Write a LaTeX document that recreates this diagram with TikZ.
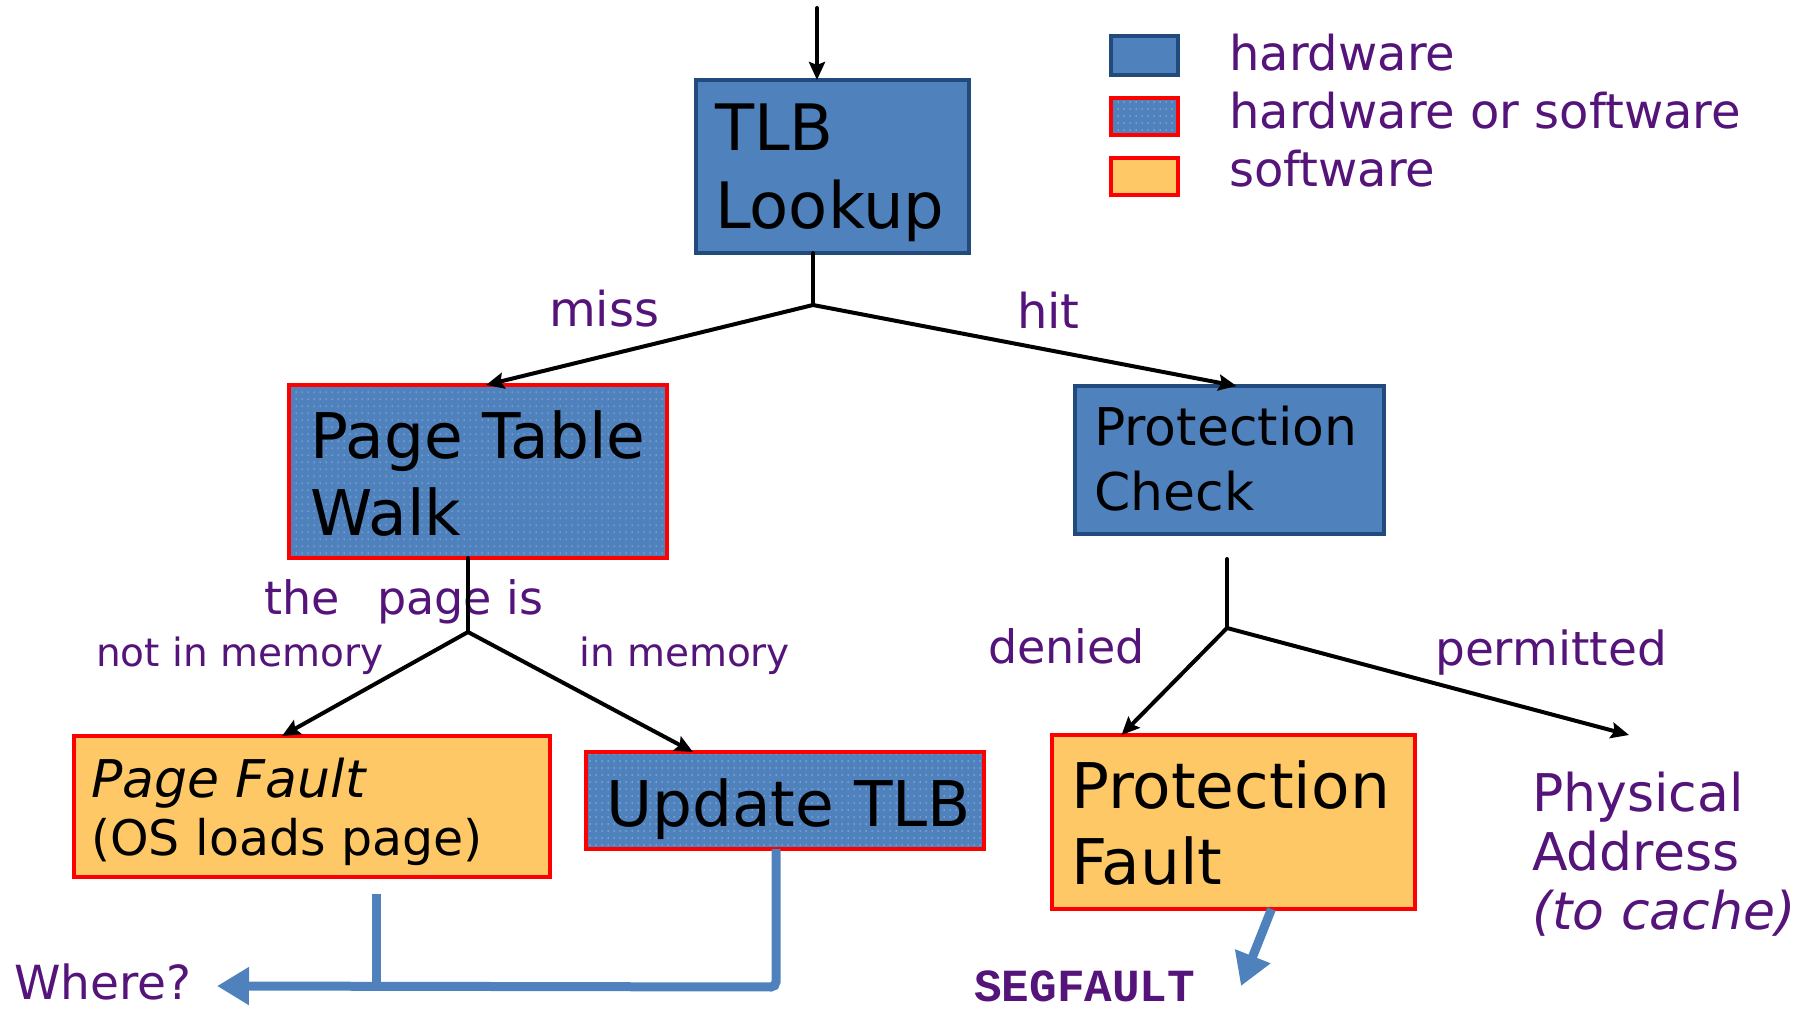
\documentclass[tikz,border=0pt]{standalone}
\usepackage{fontspec}
\setmainfont{DejaVu Sans}
\newfontfamily\segfont{Liberation Mono}
\usetikzlibrary{arrows.meta,patterns.meta}
\definecolor{hwblue}{RGB}{79,129,189}
\definecolor{hwdark}{RGB}{35,74,125}
\definecolor{swfill}{RGB}{255,200,102}
\definecolor{txtpurple}{RGB}{84,20,122}
\definecolor{dotcol}{RGB}{140,172,214}
\tikzdeclarepattern{name=hwdots, type=uncolored,
  bounding box={(0pt,0pt) and (6pt,6.5pt)}, tile size={(6pt,6.5pt)},
  code={\fill (2pt,2pt) rectangle (3pt,4pt);}}
\tikzset{
  boxbase/.style={rectangle, inner sep=0pt, outer sep=0pt, anchor=north west, line width=4pt},
  hwbox/.style={boxbase, draw=hwdark, fill=hwblue},
  mixbox/.style={boxbase, draw=red, preaction={fill=hwblue}, pattern=hwdots, pattern color=dotcol},
  swbox/.style={boxbase, draw=red, fill=swfill},
  conn/.style={line width=4pt, draw=black, line cap=round, line join=round},
  arr/.style={conn, -{Stealth[length=18pt,width=16pt,inset=3pt]}},
  bluearr/.style={line width=9pt, draw=hwblue, -{Triangle[length=32pt,width=36pt]}},
  bluel/.style={line width=9pt, draw=hwblue},
  boxtext/.style={anchor=base west, inner sep=0pt, align=left, text=black},
  lbl/.style={anchor=base west, inner sep=0pt, align=left, text=txtpurple},
}
\begin{document}
\begin{tikzpicture}[x=1pt,y=-1pt]
\useasboundingbox (0,0) rectangle (1793,1011);

% boxes
\node[hwbox, minimum width=273pt, minimum height=173pt] (tlb) at (696,80) {};
\node[mixbox, minimum width=378pt, minimum height=173pt] (ptw) at (289,385) {};
\node[hwbox, minimum width=309pt, minimum height=148pt] (pc) at (1075,386) {};
\node[swbox, minimum width=476pt, minimum height=141pt] (pf) at (74,736) {};
\node[mixbox, minimum width=398pt, minimum height=97pt] (ut) at (586,752) {};
\node[swbox, minimum width=363pt, minimum height=174pt] (prf) at (1052,735) {};

% box texts (anchor is baseline of last line)
\node[boxtext, font=\fontsize{64}{78}\selectfont] (tlbt) at (715,229) {TLB\\Lookup};
\node[boxtext, font=\fontsize{63}{77}\selectfont] (ptwt) at (310,535) {Page Table\\Walk};
\node[boxtext, font=\fontsize{52}{65}\selectfont] (pct) at (1094,510) {Protection\\Check};
\node[boxtext, font=\fontsize{49}{58}\selectfont] (pft) at (91,855) {{\fontsize{52}{58}\selectfont\itshape Page Fault}\\(OS loads page)};
\node[boxtext, font=\fontsize{63}{77}\selectfont] (utt) at (606,826) {Update TLB};
\node[boxtext, font=\fontsize{63}{76}\selectfont] (prft) at (1071,884) {Protection\\Fault};

% legend
\node[hwbox, minimum width=67pt, minimum height=39pt] (leg1) at (1111,36) {};
\node[mixbox, minimum width=67pt, minimum height=37pt] (leg2) at (1111,98) {};
\node[swbox, minimum width=67pt, minimum height=37pt] (leg3) at (1111,158) {};
\node[lbl, font=\fontsize{48}{58}\selectfont] (leg1t) at (1229,71) {hardware};
\node[lbl, font=\fontsize{48}{58}\selectfont] (leg2t) at (1229,129) {hardware or software};
\node[lbl, font=\fontsize{48}{58}\selectfont] (leg3t) at (1229,186) {software};

% labels
\node[lbl, font=\fontsize{48}{58}\selectfont] (miss) at (549,326) {miss};
\node[lbl, font=\fontsize{48}{58}\selectfont] (hit) at (1017,328) {hit};
\node[lbl, font=\fontsize{46}{56}\selectfont] (thepage) at (264,614) {the\hspace{23pt} page is};
\node[lbl, font=\fontsize{39}{45}\selectfont] (notin) at (96,666) {not in memory};
\node[lbl, font=\fontsize{39}{45}\selectfont] (inmem) at (579,666) {in memory};
\node[lbl, font=\fontsize{46}{56}\selectfont] (denied) at (988,663) {denied};
\node[lbl, font=\fontsize{47}{56}\selectfont] (permitted) at (1435,665) {permitted};
\node[lbl, font=\fontsize{52}{59}\selectfont] (phys) at (1532,929) {Physical\\Address\\\textit{(to cache)}};
\node[lbl, font=\fontsize{47}{56}\selectfont] (where) at (14,999) {Where?};
\node[lbl, text depth=0pt, font=\fontsize{46}{56}\selectfont\segfont\bfseries] (seg) at (974,1001) {SEGFAULT};

% coordinates
\coordinate (in) at (817,8);
\coordinate (s1) at (813,305);
\coordinate (s2) at (468,632);
\coordinate (s3top) at (1227,559);
\coordinate (s3) at (1227,628);
\coordinate (pain) at (1629,735);
\coordinate (wcor) at (776,987);
\coordinate (wtip) at (217,986);
\coordinate (pfb) at (376,894);
\coordinate (segtip) at (1241,986);

% black connectors
\draw[arr] (in) -- (in |- tlb.north);
\draw[conn] (tlb.south -| s1) -- (s1);
\draw[arr] (s1) -- ([xshift=8pt]ptw.north);
\draw[arr] (s1) -- ([xshift=7pt]pc.north);
\draw[conn] (ptw.south -| s2) -- (s2);
\draw[arr] (s2) -- ([xshift=-30pt]pf.north);
\draw[arr] (s2) -- ([xshift=-92pt]ut.north);
\draw[conn] (s3top) -- (s3);
\draw[arr] (s3) -- ([xshift=-112pt]prf.north);
\draw[arr] (s3) -- (pain);

% blue connectors
\draw[bluel] (pfb) -- (pfb |- wcor);
\draw[bluearr, rounded corners=5pt] (ut.south -| wcor) -- (wcor) -- (wtip);
\draw[bluearr] ([xshift=38pt]prf.south) -- (segtip);
\end{tikzpicture}
\end{document}
